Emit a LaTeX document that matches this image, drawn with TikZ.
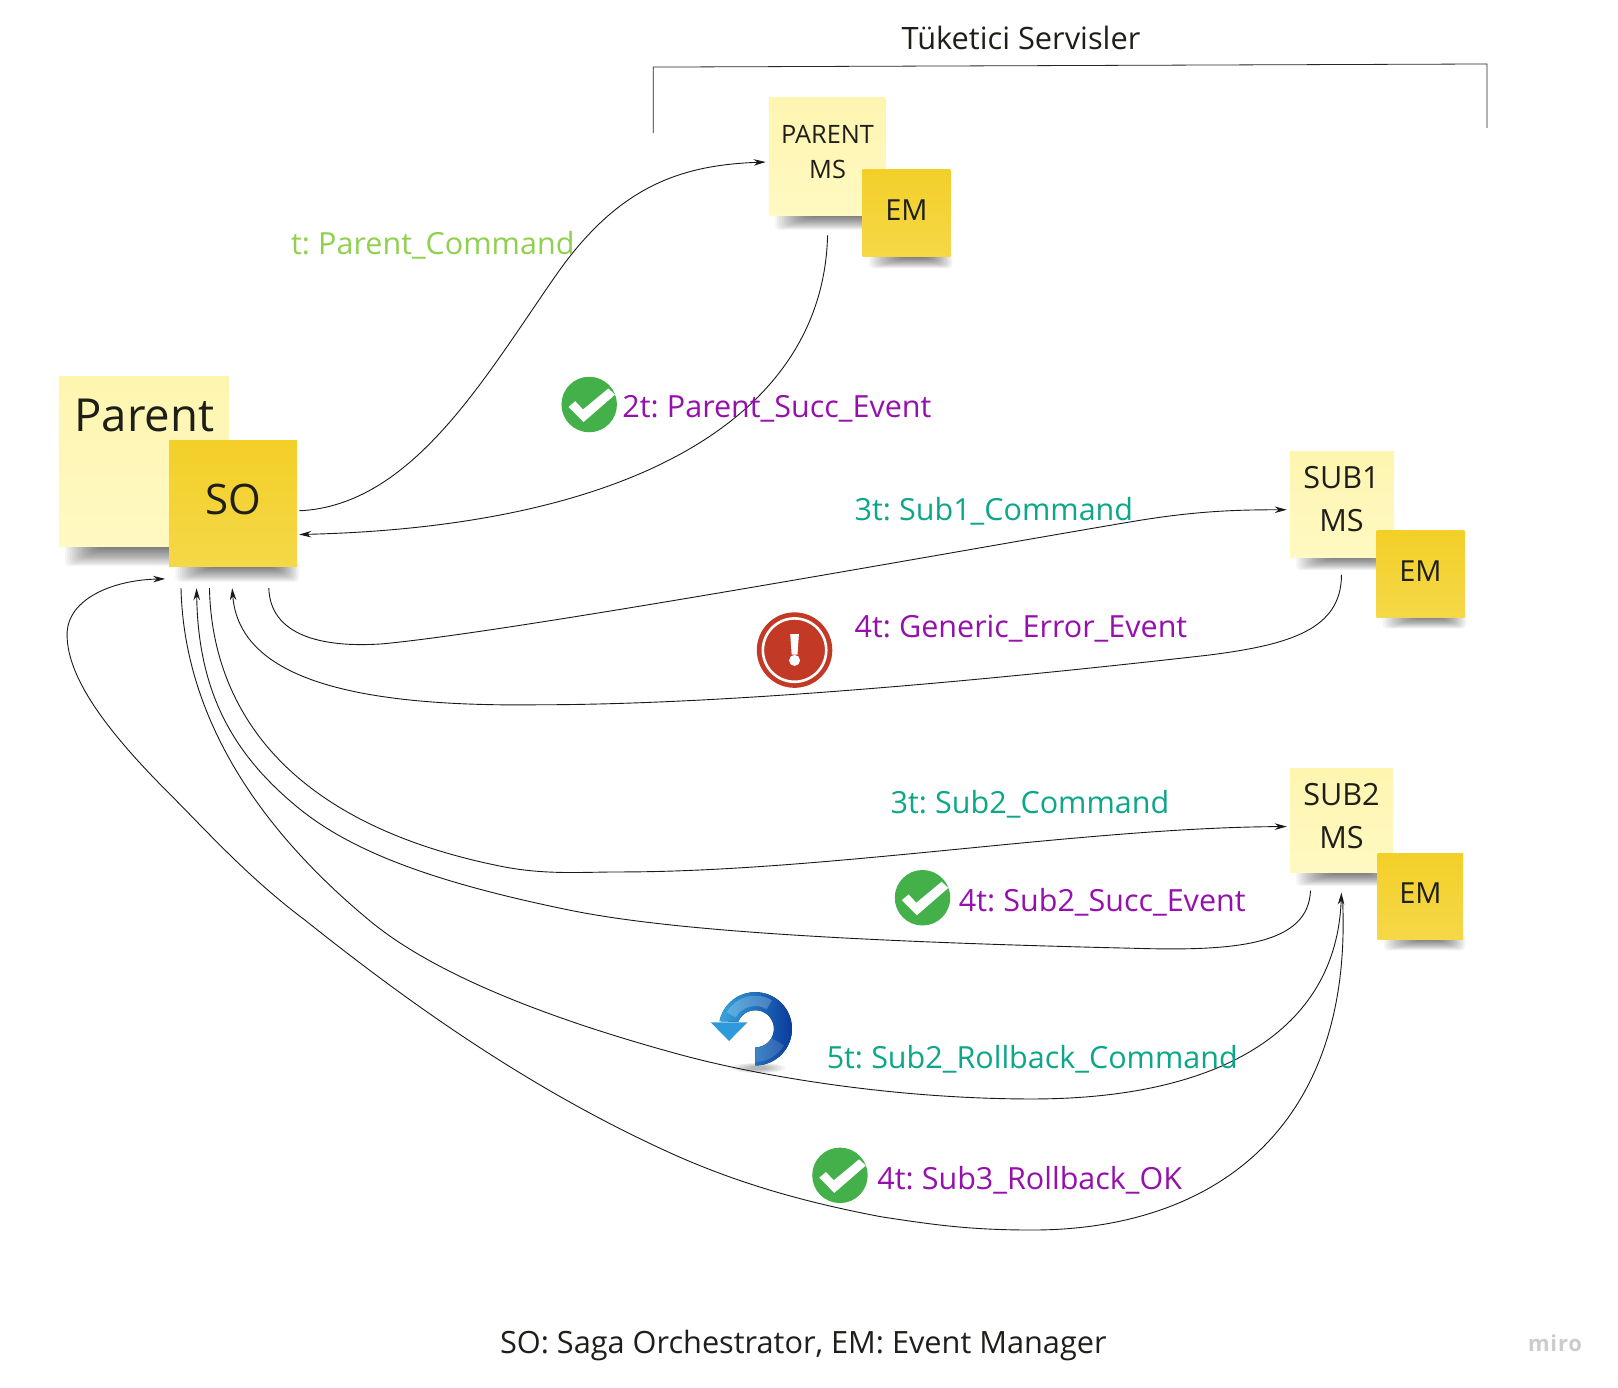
\documentclass[tikz,border=0pt]{standalone}
\usepackage{fontspec}
\setmainfont{Open Sans}
\newfontfamily\labfont[WordSpace=0.7]{Open Sans}
\usetikzlibrary{arrows.meta}
\definecolor{paleA}{HTML}{FEF5B0}
\definecolor{paleB}{HTML}{FFF9C2}
\definecolor{deepA}{HTML}{F3CF28}
\definecolor{deepB}{HTML}{F5D848}
\definecolor{txt}{HTML}{1F1F1A}
\definecolor{lgreen}{HTML}{8FD14F}
\definecolor{purp}{HTML}{9510AC}
\definecolor{teal2}{HTML}{0CA789}
\definecolor{okgreen}{HTML}{43B04A}
\definecolor{errred}{HTML}{C23A26}
\definecolor{undoL}{HTML}{35A6E0}
\definecolor{undoR}{HTML}{0B3A9C}
\definecolor{undoH}{HTML}{2F9ADB}
\newcommand{\fsl}[2]{\fontsize{#1}{#2}\selectfont}
\newcommand{\fs}[1]{\fontsize{#1}{40}\selectfont}
\tikzset{
  x=1.03189pt,y=-1.03189pt,
  flow/.style={draw=black!90,line width=0.9pt},
  flowtip/.style={flow,-{Stealth[length=12pt,width=6.5pt]}},
  bracket/.style={draw=black!85,line width=0.8pt},
  pale/.style={rectangle,inner sep=0pt,top color=paleA,bottom color=paleB},
  deep/.style={rectangle,inner sep=0pt,top color=deepA,bottom color=deepB,text=txt},
  captxt/.style={text=txt,align=center,inner sep=0pt},
  lab/.style={anchor=base west,inner sep=0pt,font=\labfont\fs{30.5}},
}
% soft shadow under a sticky note: left, right, bottom
\newcommand{\noteshadow}[3]{%
  \pgfmathsetmacro{\shh}{(#2-#1)*0.095+3}
  \foreach \i in {0,...,15}{
    \fill[black,opacity=0.04,rounded corners=4pt]
      ({#1+6+\i*2.2},{#3-5}) rectangle ({#2+2-\i*1.6},{#3+\shh*(1-\i/16)});
  }}
% note: name, left, top, right, bottom, style, text
\newcommand{\sticky}[7]{%
  \noteshadow{#2}{#4}{#5}
  \node[#6,minimum width={(#4-#2)*1.03189pt},minimum height={(#5-#3)*1.03189pt}]
    (#1) at ({(#2+#4)/2},{(#3+#5)/2}) {#7};}
\newcommand{\okicon}[3]{%
  \node[circle,fill=okgreen,inner sep=0pt,minimum size=55.5pt] (#1) at (#2,#3) {};
  \fill[white,shift={(#2,#3)}] (-20,2.3) -- (-5.5,17) -- (25,-9.5) -- (18.5,-15.5) -- (-6,4.8) -- (-13.5,-3.2) -- cycle;}
\begin{document}
\begin{tikzpicture}
\useasboundingbox (0,0) rectangle (1568,1344.6);
\fill[white] (0,0) rectangle (1568,1344.6);

% bracket
\coordinate (brA) at (633,129);
\coordinate (brB) at (633,65);
\coordinate (brC) at (1441,62);
\coordinate (brD) at (1441,124);
\draw[bracket] (brA) -- (brB) -- (brC) -- (brD);

% notes
\sticky{parentnote}{57}{365}{222}{530}{pale}{}
\sticky{sonote}{164}{427}{288}{549}{deep}{\raisebox{9pt}{\fs{42}SO}}
\sticky{pms}{745}{94}{858}{209}{pale}{}
\sticky{pem}{836}{164}{921}{249}{deep}{\raisebox{6pt}{\fs{29}EM}}
\sticky{s1ms}{1250}{438}{1351}{540}{pale}{}
\sticky{s1em}{1334}{514}{1419}{598}{deep}{\raisebox{6pt}{\fs{29}EM}}
\sticky{s2ms}{1250}{745}{1350}{846}{pale}{}
\sticky{s2em}{1335}{827}{1418}{910}{deep}{\raisebox{6pt}{\fs{29}EM}}

\node[captxt,font=\fs{45.5}] (parenttxt) at (140,402.5) {Parent};
\node[captxt,font=\fsl{25.3}{35}] (pmstxt) at (802,147) {PARENT\\MS};
\node[captxt,font=\fsl{30.6}{43}] (s1txt) at (1300,484) {SUB1\\MS};
\node[captxt,font=\fsl{30.6}{43}] (s2txt) at (1300,791) {SUB2\\MS};

% connector ends
\coordinate (soOutA) at (290,495);
\coordinate (soInA) at (290,518);
\coordinate (pmsIn) at (742,157);
\coordinate (pmsOut) at (802,228);
\coordinate (soOutB) at (260.5,570);
\coordinate (s1In) at (1247,494);
\coordinate (s1Out) at (1300,557);
\coordinate (soInB) at (225,570);
\coordinate (soOutC) at (203,570);
\coordinate (s2In) at (1247,801);
\coordinate (s2Out) at (1270,863);
\coordinate (soInC) at (190.5,570);
\coordinate (soOutD) at (175.4,570);
\coordinate (s2InB) at (1300,865);
\coordinate (s2OutB) at (1301,870);
\coordinate (soInD) at (160,561);

\draw[flowtip] (soOutA) .. controls (400,490) and (470,365) .. (540,265) .. controls (600,180) and (660,160) .. (pmsIn);
\draw[flowtip] (pmsOut) .. controls (798,400) and (620,510) .. (soInA);
\draw[flowtip] (soOutB) .. controls (262,615) and (310,628) .. (370,624) .. controls (500,612) and (950,530) .. (1100,505) .. controls (1160,495) and (1200,494) .. (s1In);
\draw[flowtip] (s1Out) .. controls (1300,610) and (1250,625) .. (1170,635) .. controls (950,660) and (700,683) .. (520,683) .. controls (350,685) and (232,660) .. (soInB);
\draw[flowtip] (soOutC) .. controls (205,670) and (260,795) .. (488,840) .. controls (530,848) and (565,845) .. (600,845) .. controls (800,845) and (1050,802) .. (s2In);
\draw[flowtip] (s2Out) .. controls (1268,915) and (1200,922) .. (1100,919) .. controls (800,912) and (640,900) .. (552,882) .. controls (420,855) and (340,825) .. (288,782) .. controls (225,730) and (192,670) .. (soInC);
\draw[flowtip] (soOutD) .. controls (178,680) and (235,790) .. (358,892) .. controls (430,952) and (560,995) .. (659,1022) .. controls (740,1044) and (870,1065) .. (1000,1065) .. controls (1180,1065) and (1295,1000) .. (s2InB);
\draw[flowtip] (s2OutB) .. controls (1312,1090) and (1180,1192) .. (1000,1192) .. controls (940,1192) and (905,1187) .. (853,1179) .. controls (780,1165) and (720,1148) .. (659,1121.5) .. controls (520,1060) and (400,975) .. (296,892) .. controls (240,850) and (200,805) .. (165,770) .. controls (110,715) and (65,660) .. (65,615) .. controls (65,580) and (110,562) .. (soInD);

% labels
\node[lab,text=lgreen] (l1) at (282,247) {t: Parent\_Command};
\node[lab,text=purp] (l2) at (603,405) {2t: Parent\_Succ\_Event};
\node[lab,text=teal2] (l3) at (828,504) {3t: Sub1\_Command};
\node[lab,text=purp] (l4) at (828,618) {4t: Generic\_Error\_Event};
\node[lab,text=teal2] (l5) at (863,788) {3t: Sub2\_Command};
\node[lab,text=purp] (l6) at (929,883) {4t: Sub2\_Succ\_Event};
\node[lab,text=teal2] (l7) at (801,1035) {5t: Sub2\_Rollback\_Command};
\node[lab,text=purp] (l8) at (850,1153) {4t: Sub3\_Rollback\_OK};
\node[captxt,font=\fs{30.8}] (title) at (989.5,36.5) {Tüketici Servisler};
\node[captxt,font=\fs{30.7}] (legend) at (778.5,1303.5) {SO: Saga Orchestrator, EM: Event Manager};
\node[inner sep=0pt,text=black!20,font=\fs{22}\bfseries\addfontfeatures{LetterSpace=4}] (miro) at (1507,1302) {miro};

% icons
\okicon{okA}{571}{392}
\okicon{okB}{894}{870}
\okicon{okC}{814}{1139}

\node[circle,fill=errred,inner sep=0pt,minimum size=75.5pt] (err) at (770,630) {};
\draw[white,line width=2.6pt]
  plot[domain=0:360,samples=73] ({770+30.7*cos(\x)},{630+30.7*sin(\x)});
\fill[white] (765.8,614.5) -- (774.2,614.5) -- (772.8,634.5) -- (767.2,634.5) -- cycle;
\fill[white] (770,640) circle[radius=5.5pt];

% undo icon
\foreach \i in {0,...,5}{
  \fill[black,opacity=0.05] (735,1035) ellipse[x radius={26-\i*3.5},y radius={5-\i*0.6}];
}
\fill[left color=undoL,right color=undoR]
  plot[domain=-90:168,samples=60] ({732+35.5*cos(\x)},{997-35.5*sin(\x)})
  -- plot[domain=158:-90,samples=60] ({732+18*cos(\x)},{997-18*sin(\x)}) -- cycle;
\fill[white,opacity=0.22]
  plot[domain=60:150,samples=20] ({732+32*cos(\x)},{997-32*sin(\x)})
  -- plot[domain=150:60,samples=20] ({732+22*cos(\x)},{997-22*sin(\x)}) -- cycle;
\fill[white,opacity=0.14]
  plot[domain=-90:-30,samples=15] ({732+32*cos(\x)},{997-32*sin(\x)})
  -- plot[domain=-30:-90,samples=15] ({732+18*cos(\x)},{997-18*sin(\x)}) -- cycle;
\fill[undoH] (688.7,990.7) -- (724.5,990.7) -- (706.5,1008.8) -- cycle;
\end{tikzpicture}
\end{document}
